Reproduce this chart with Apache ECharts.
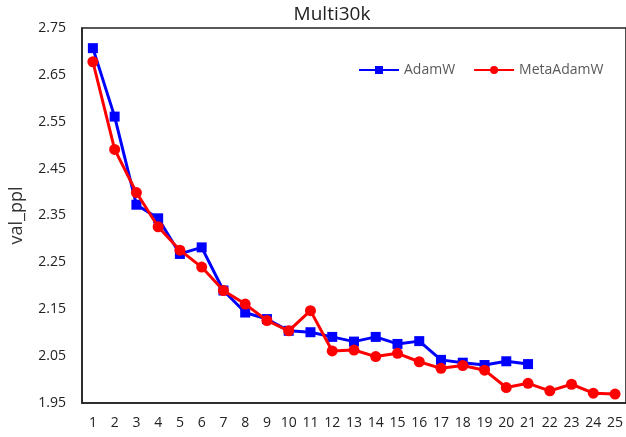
<!DOCTYPE html>
<html>
<head>
<meta charset="utf-8">
<script src="https://cdn.jsdelivr.net/npm/echarts@6/dist/echarts.min.js"></script>
<style>
	html, body { margin: 0; padding: 0; background: #fff; }
	#chart-container { width: 626px; height: 437px; }
</style>
</head>
<body>
<div id="chart-container"></div>
<script>

var epochs = ['1','2','3','4','5','6','7','8','9','10','11','12','13','14','15','16','17','18','19','20','21','22','23','24','25'];

var adamW = [2.707, 2.561, 2.373, 2.344, 2.268, 2.282, 2.190, 2.143, 2.129, 2.104, 2.101,
	2.091, 2.081, 2.091, 2.076, 2.082, 2.042, 2.036, 2.031, 2.039, 2.033];

var metaAdamW = [2.678, 2.491, 2.399, 2.326, 2.276, 2.240, 2.190, 2.161, 2.126, 2.104, 2.147,
	2.061, 2.063, 2.049, 2.056, 2.038, 2.024, 2.030, 2.020, 1.983, 1.992, 1.976, 1.990, 1.971, 1.969];

var yTicks = [1.95, 2.05, 2.15, 2.25, 2.35, 2.45, 2.55, 2.65, 2.75];

var font = '"Open Sans", "Liberation Sans", sans-serif';

var myChart = echarts.init(document.getElementById('chart-container'));

var option = {
	animation: false,
	backgroundColor: '#ffffff',
	title: {
		text: 'Multi30k',
		left: 327,
		textAlign: 'center',
		top: 0,
		textStyle: { fontFamily: font, fontSize: 19, fontWeight: 'normal', color: '#222' }
	},
	legend: {
		top: 58,
		left: 353,
		itemWidth: 40,
		itemHeight: 10,
		itemGap: 18,
		textStyle: { fontFamily: font, fontSize: 14, color: '#595959' },
		data: ['AdamW', 'MetaAdamW']
	},
	// box around the plot (right edge falls just outside the picture)
	grid: {
		left: 81,
		right: -3,
		top: 28,
		bottom: 34,
		show: true,
		borderColor: '#222',
		borderWidth: 1.5
	},
	xAxis: {
		type: 'category',
		data: epochs,
		boundaryGap: true,
		axisLine: { lineStyle: { color: '#222', width: 1.5 } },
		axisTick: { show: false },
		axisLabel: { fontFamily: font, fontSize: 14, color: '#222', margin: 13, interval: 0 }
	},
	yAxis: {
		type: 'value',
		min: yTicks[0],
		max: yTicks[yTicks.length - 1],
		interval: 0.1,
		name: 'val_ppl',
		nameLocation: 'middle',
		nameGap: 56,
		nameTextStyle: { fontFamily: font, fontSize: 18, color: '#333' },
		axisLine: { show: true, lineStyle: { color: '#222', width: 1.5 } },
		axisTick: { show: false },
		splitLine: { show: false },
		axisLabel: {
			fontFamily: font, fontSize: 14, color: '#222', margin: 16,
			formatter: function (v) { return v.toFixed(2); }
		}
	},
	series: [{
		name: 'AdamW',
		type: 'line',
		data: adamW,
		symbol: 'rect',
		symbolSize: 10,
		lineStyle: { color: '#0000ff', width: 3 },
		itemStyle: { color: '#0000ff' },
		z: 2
	}, {
		name: 'MetaAdamW',
		type: 'line',
		data: metaAdamW,
		symbol: 'circle',
		symbolSize: 11,
		lineStyle: { color: '#ff0000', width: 3 },
		itemStyle: { color: '#ff0000' },
		z: 3
	}]
};

myChart.setOption(option);

</script>
</body>
</html>
